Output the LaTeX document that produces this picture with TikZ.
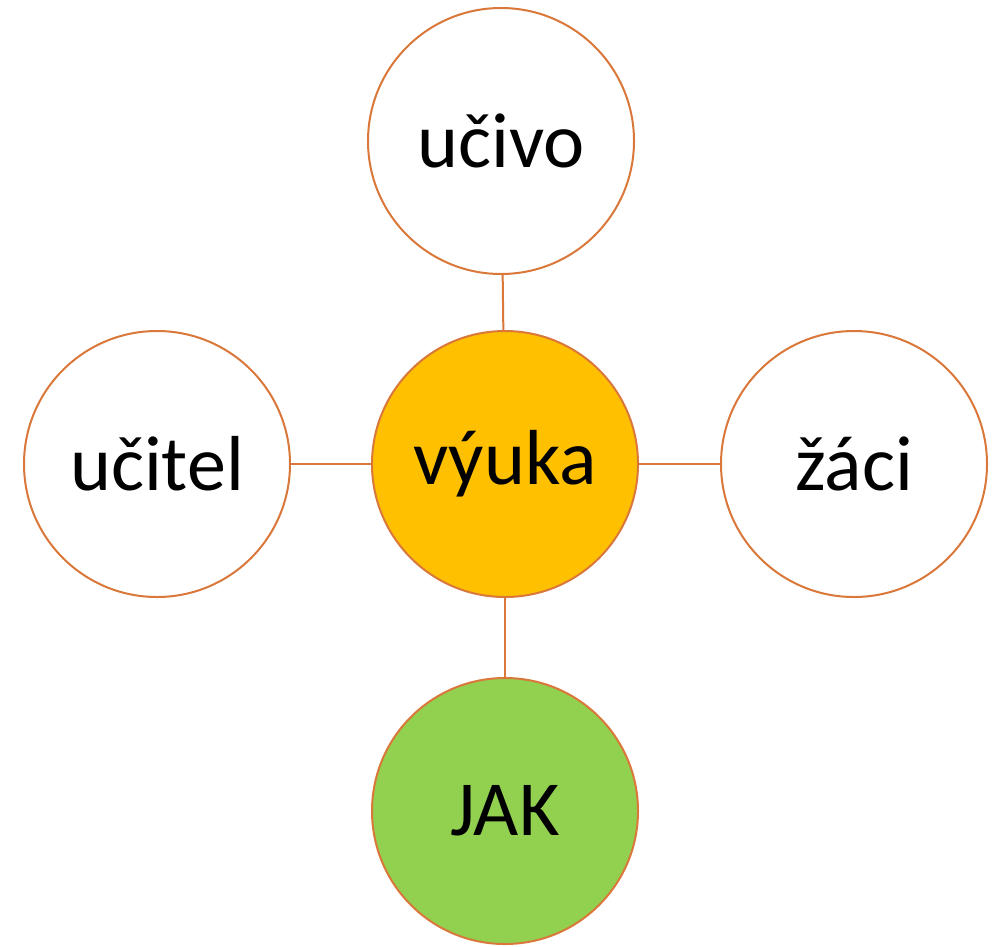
\documentclass[tikz,border=0pt]{standalone}
\usepackage{fontspec}
\setmainfont{Carlito}
\usetikzlibrary{positioning}
\definecolor{rim}{HTML}{D9783A}
\definecolor{amber}{HTML}{FFC000}
\definecolor{leaf}{HTML}{92D050}
\tikzset{
    %Define style for circles
    topic/.style={
           circle,
           draw=rim, line width=2pt,
           minimum size=266pt,
           inner sep=0pt,
           font=\fontsize{78}{90}\selectfont,
           text centered,
           fill=white},
    core/.style={topic, fill=amber},
    answer/.style={topic, fill=leaf},
    % Define connector style
    link/.style={
           draw=rim,
           line width=2pt}
}
\begin{document}
\begin{tikzpicture}[x=1pt,y=-1pt]
\useasboundingbox (0,0) rectangle (1000,946);
\node[core] (vyuka) at (505,464) {výuka};
\node[topic, above=55pt of vyuka, xshift=-4pt] (ucivo) {učivo};
\node[topic, left=80pt of vyuka] (ucitel) {učitel};
\node[topic, right=81pt of vyuka] (zaci) {žáci};
\node[answer, below=79pt of vyuka] (jak) {JAK};
\path[link]
    (ucivo) edge (vyuka)
    (ucitel) edge (vyuka)
    (vyuka) edge (zaci)
    (vyuka) edge (jak);
\end{tikzpicture}
\end{document}
